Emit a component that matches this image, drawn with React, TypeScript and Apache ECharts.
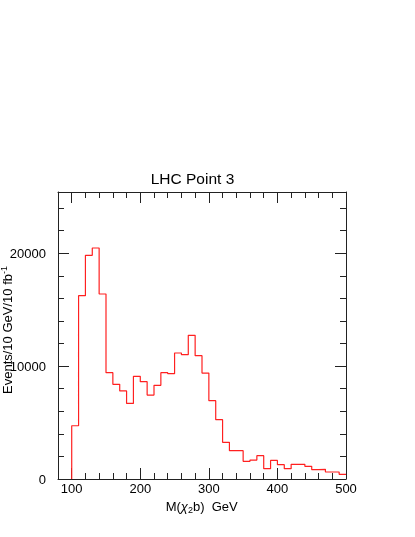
import React, { useEffect, useRef } from "react";
import * as echarts from "echarts";

const binStart = 100;
const binWidth = 10;
const counts = [
  4720, 16240, 19820, 20470, 16390, 9420, 8390, 7800, 6700, 9100,
  8620, 7440, 8300, 9420, 9330, 11165, 11015, 12730, 10930, 9390,
  6940, 5260, 3250, 2510, 2510, 1570, 1680, 2070, 915, 1650,
  1270, 915, 1300, 1300, 1120, 830, 860, 620, 620, 410,
];
const xMajorTicks = [100, 200, 300, 400, 500];
const xMinorTicks = [80, 100, 120, 140, 160, 180, 200, 220, 240, 260, 280, 300, 320, 340, 360, 380, 400, 420, 440, 460, 480, 500];
const yMajorTicks = [0, 10000, 20000];
const yMinorTicks = [0, 2000, 4000, 6000, 8000, 10000, 12000, 14000, 16000, 18000, 20000, 22000, 24000];
const title = "LHC Point 3";

const FONT = "'Liberation Sans', Arial, Helvetica, sans-serif";
const AXC = "#222";

export default function App() {
  const ref = useRef<HTMLDivElement>(null);
  useEffect(() => {
    if (!ref.current) return;
    const chart = echarts.init(ref.current, null, { renderer: "svg" });
    const pts: number[][] = [[binStart, 0]];
    counts.forEach((v, i) => {
      const lo = binStart + i * binWidth;
      pts.push([lo, v]);
      pts.push([lo + binWidth, v]);
    });
    const xBase = { type: "value", min: 80, max: 500, splitLine: { show: false } };
    const yBase = { type: "value", min: 0, max: 25430, splitLine: { show: false } };
    const lineOn = { show: true, onZero: false, lineStyle: { color: AXC, width: 1 } };
    const lineOff = { show: false, onZero: false };
    const noLabel = { show: false };
    const fmt = (v: number) => String(v);
    chart.setOption({
      animation: false,
      grid: { left: 58, right: 69, top: 192, bottom: 58, containLabel: false },
      xAxis: [
        {
          ...xBase, position: "bottom", axisLine: lineOn,
          axisTick: { show: true, inside: true, length: 6, customValues: xMinorTicks, lineStyle: { color: AXC } },
          axisLabel: { show: true, customValues: xMajorTicks, formatter: fmt, margin: 3, fontSize: 13, color: "#000", fontFamily: FONT },
        },
        {
          ...xBase, position: "bottom", axisLine: lineOff,
          axisTick: { show: true, inside: true, length: 11, customValues: xMajorTicks, lineStyle: { color: AXC } },
          axisLabel: noLabel,
        },
        {
          ...xBase, position: "top", axisLine: lineOn,
          axisTick: { show: true, inside: true, length: 6, customValues: xMinorTicks, lineStyle: { color: AXC } },
          axisLabel: noLabel,
        },
        {
          ...xBase, position: "top", axisLine: lineOff,
          axisTick: { show: true, inside: true, length: 11, customValues: xMajorTicks, lineStyle: { color: AXC } },
          axisLabel: noLabel,
        },
      ],
      yAxis: [
        {
          ...yBase, position: "left", axisLine: lineOn,
          axisTick: { show: true, inside: true, length: 6, customValues: yMinorTicks, lineStyle: { color: AXC } },
          axisLabel: { show: true, customValues: yMajorTicks, formatter: fmt, margin: 12, fontSize: 13, color: "#000", fontFamily: FONT },
        },
        {
          ...yBase, position: "left", axisLine: lineOff,
          axisTick: { show: true, inside: true, length: 11, customValues: yMajorTicks, lineStyle: { color: AXC } },
          axisLabel: noLabel,
        },
        {
          ...yBase, position: "right", axisLine: lineOn,
          axisTick: { show: true, inside: true, length: 6, customValues: yMinorTicks, lineStyle: { color: AXC } },
          axisLabel: noLabel,
        },
        {
          ...yBase, position: "right", axisLine: lineOff,
          axisTick: { show: true, inside: true, length: 11, customValues: yMajorTicks, lineStyle: { color: AXC } },
          axisLabel: noLabel,
        },
      ],
      series: [
        {
          type: "line",
          xAxisIndex: 0,
          yAxisIndex: 0,
          data: pts,
          symbol: "none",
          lineStyle: { color: "#ff2020", width: 1.2 },
          z: 1,
        },
      ],
      graphic: [
        {
          type: "text",
          x: 192.5,
          y: 178,
          style: { text: title, fontSize: 15.5, fontFamily: FONT, fill: "#000", align: "center", verticalAlign: "middle" },
        },
        {
          type: "text",
          x: 201.7,
          y: 506,
          style: {
            text: "{a|M(}{c|χ}{s|2}{a|b)  GeV}",
            align: "center",
            verticalAlign: "middle",
            rich: {
              a: { fontSize: 13, fontFamily: FONT, fill: "#000", lineHeight: 16, verticalAlign: "middle" },
              c: { fontSize: 13, fontFamily: FONT, fontStyle: "italic", fill: "#000", lineHeight: 16, verticalAlign: "middle" },
              s: { fontSize: 9, fontFamily: FONT, fill: "#000", lineHeight: 9, verticalAlign: "bottom" },
            },
          },
        },
        {
          type: "text",
          x: 7,
          y: 330,
          rotation: Math.PI / 2,
          style: {
            text: "{a|Events/10 GeV/10 fb}{u|-1}",
            align: "center",
            verticalAlign: "middle",
            rich: {
              a: { fontSize: 13, fontFamily: FONT, fill: "#000", lineHeight: 16, verticalAlign: "middle" },
              u: { fontSize: 9, fontFamily: FONT, fill: "#000", lineHeight: 9, verticalAlign: "top" },
            },
          },
        },
      ],
    });
    return () => chart.dispose();
  }, []);
  return <div ref={ref} style={{ position: "fixed", left: 0, top: 0, width: 415, height: 537 }} />;
}
